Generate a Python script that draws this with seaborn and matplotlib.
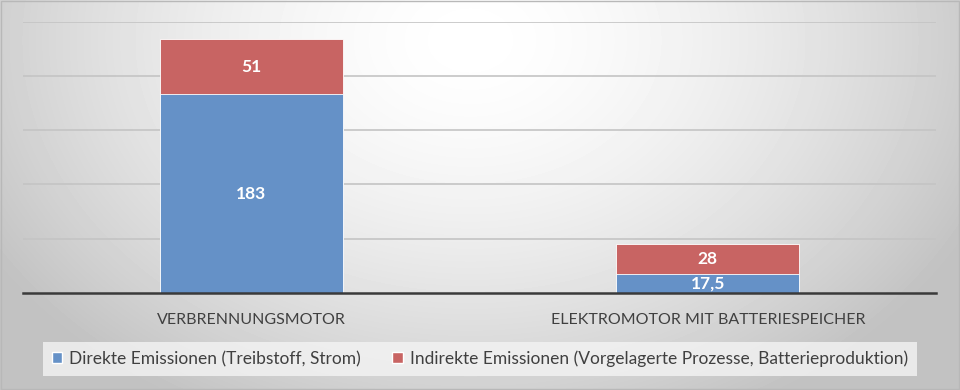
import numpy as np
import pandas as pd
import matplotlib
matplotlib.use("Agg")
import matplotlib.pyplot as plt
import seaborn as sns
from matplotlib.patches import Patch

categories = ["VERBRENNUNGSMOTOR", "ELEKTROMOTOR MIT BATTERIESPEICHER"]
direct = [183, 17.5]
indirect = [51, 28]
direct_labels = ["183", "17,5"]
indirect_labels = ["51", "28"]
series_names = ["Direkte Emissionen (Treibstoff, Strom)",
                "Indirekte Emissionen (Vorgelagerte Prozesse, Batterieproduktion)"]

blue = "#6591c7"
red = "#c86463"
text_col = "#404040"

sns.set_style("white")
plt.rcParams["font.family"] = ["Lato", "DejaVu Sans"]

df = pd.DataFrame({"cat": categories, "direct": direct, "indirect": indirect})
df["total"] = df["direct"] + df["indirect"]

fig = plt.figure(figsize=(9.6, 3.9), dpi=100)

# background gradient (light center, gray edges)
bg = fig.add_axes([0, 0, 1, 1], zorder=-10)
yy, xx = np.mgrid[0:390, 0:960]
d = np.sqrt(((xx - 470) / 560.0) ** 2 + ((yy - 40) / 420.0) ** 2)
shade = 1.0 - 0.24 * np.clip(d, 0, 1) ** 1.6
bg.imshow(shade, cmap="gray", vmin=0, vmax=1, aspect="auto", extent=[0, 1, 0, 1])
bg.axis("off")
fig.patches.append(plt.Rectangle((0.001, 0.002), 0.998, 0.995, transform=fig.transFigure,
                                 fill=False, edgecolor="#b8b8b8", linewidth=1))

ax = fig.add_axes([0.024, 0.249, 0.951, 0.695])
ax.patch.set_alpha(0)

sns.barplot(data=df, x="cat", y="total", color=red, width=0.4, saturation=1,
            edgecolor="white", linewidth=0.6, ax=ax, zorder=3)
sns.barplot(data=df, x="cat", y="direct", color=blue, width=0.4, saturation=1,
            edgecolor="white", linewidth=0.6, ax=ax, zorder=3)

for i, row in df.iterrows():
    ax.text(i, row["direct"] / 2, direct_labels[i], ha="center", va="center",
            color="white", fontsize=12.5, fontweight="bold", zorder=5)
    ax.text(i, row["direct"] + row["indirect"] / 2, indirect_labels[i], ha="center",
            va="center", color="white", fontsize=12.5, fontweight="bold", zorder=5)

ax.set_xlim(-0.5, 1.5)
ax.set_ylim(0, 250)
ax.set_yticks([50, 100, 150, 200, 250])
ax.yaxis.grid(True, color="#c4c4c4", linewidth=1.2, zorder=0)
ax.set_axisbelow(True)
ax.tick_params(axis="y", left=False, labelleft=False)
ax.tick_params(axis="x", bottom=False, labelsize=11.5, labelcolor=text_col, pad=11)
ax.set_xlabel("")
ax.set_ylabel("")
for s in ["top", "right", "left"]:
    ax.spines[s].set_visible(False)
ax.spines["bottom"].set_color("#3a3a3a")
ax.spines["bottom"].set_linewidth(1.8)
ax.spines["bottom"].set_zorder(6)

handles = [Patch(facecolor=blue, label=series_names[0]),
           Patch(facecolor=red, label=series_names[1])]
leg = fig.legend(handles=handles, loc="center", bbox_to_anchor=(0.5, 0.08), ncol=2,
                 frameon=True, fontsize=12.5, handlelength=0.6, handleheight=0.6,
                 handletextpad=0.4, columnspacing=1.8, borderpad=0.5, fancybox=False)
leg.get_frame().set_facecolor("#f4f4f4")
leg.get_frame().set_alpha(0.8)
leg.get_frame().set_edgecolor("none")
for t in leg.get_texts():
    t.set_color(text_col)

fig.savefig("out.png", dpi=100)
